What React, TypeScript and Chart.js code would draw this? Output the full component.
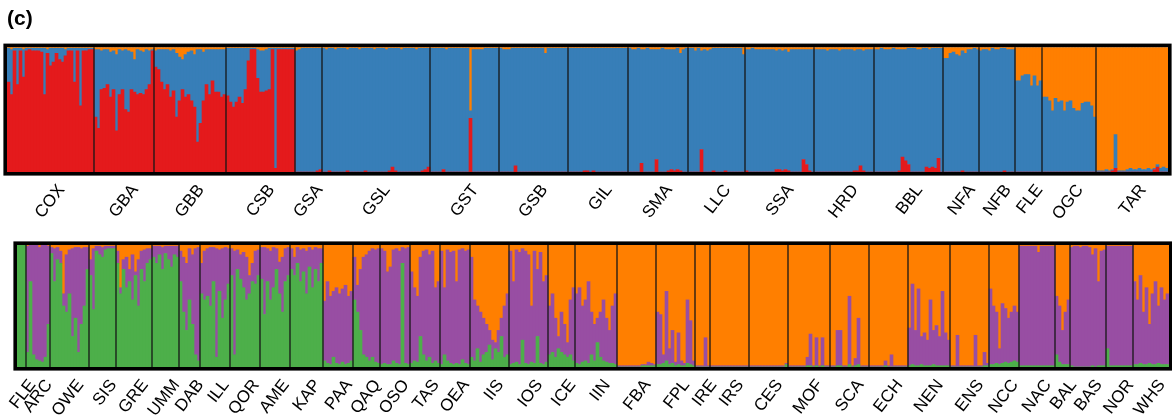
import React, { useEffect, useRef } from "react";
import { Chart, registerables } from "chart.js";
Chart.register(...registerables);

// ---------- Top panel (K: red / blue / orange) ----------
const TOP_POPS = ["COX", "GBA", "GBB", "CSB", "GSA", "GSL", "GST", "GSB", "GIL", "SMA", "LLC", "SSA", "HRD", "BBL", "NFA", "NFB", "FLE", "OGC", "TAR"];

// red ancestry per individual, one row per population
const TOP_RED: number[][] = [
  [0.72, 0.62, 0.97, 0.70, 0.97, 0.76, 0.97, 0.98, 0.97, 0.97, 0.97, 0.96, 0.62, 0.95, 0.85, 0.88, 0.95, 0.90, 0.88, 0.93, 0.97, 0.97, 0.72, 0.97, 0.53, 0.97, 0.97, 0.98, 0.98],
  [0.44, 0.35, 0.66, 0.67, 0.70, 0.60, 0.66, 0.33, 0.62, 0.66, 0.50, 0.48, 0.66, 0.64, 0.62, 0.63, 0.62, 0.66, 0.70, 0.97],
  [0.84, 0.82, 0.72, 0.66, 0.70, 0.60, 0.65, 0.44, 0.57, 0.66, 0.60, 0.62, 0.57, 0.52, 0.24, 0.39, 0.57, 0.70, 0.62, 0.73, 0.64, 0.64, 0.60, 0.62],
  [0.61, 0.56, 0.52, 0.56, 0.60, 0.55, 0.66, 0.89, 0.98, 0.98, 0.75, 0.64, 0.64, 0.65, 0.66, 0.98, 0.03, 0.98, 0.98, 0.98, 0.98, 0.98, 0.98],
  [0, 0, 0, 0, 0, 0, 0, 0.01, 0.02],
  [0, 0, 0.01, 0, 0, 0, 0, 0, 0.01, 0, 0, 0, 0, 0, 0.01, 0, 0, 0, 0, 0, 0, 0, 0.01, 0.04, 0.01, 0, 0, 0, 0, 0, 0, 0, 0, 0.01, 0.02, 0.04],
  [0, 0, 0, 0, 0.02, 0, 0, 0, 0, 0, 0, 0, 0, 0.43, 0, 0, 0, 0, 0, 0, 0, 0, 0],
  [0, 0, 0, 0, 0, 0.05, 0, 0, 0, 0, 0, 0, 0, 0, 0, 0, 0, 0, 0, 0, 0, 0, 0],
  [0, 0, 0, 0, 0, 0.01, 0.01, 0, 0.01, 0, 0, 0, 0, 0, 0, 0, 0, 0, 0, 0],
  [0, 0, 0, 0, 0.07, 0, 0, 0, 0, 0.10, 0, 0, 0, 0.01, 0.02, 0.01, 0.02, 0.01, 0, 0],
  [0, 0, 0, 0, 0.18, 0, 0, 0, 0.01, 0, 0, 0, 0.01, 0, 0, 0, 0, 0, 0],
  [0.01, 0, 0, 0, 0, 0, 0, 0, 0, 0, 0.02, 0.02, 0.01, 0.02, 0.01, 0, 0, 0, 0, 0.10, 0.06, 0.01, 0],
  [0, 0, 0, 0, 0, 0, 0, 0, 0, 0, 0, 0, 0, 0.01, 0.01, 0.05, 0.01, 0, 0, 0],
  [0, 0, 0, 0, 0, 0, 0, 0, 0.01, 0.12, 0.09, 0.06, 0, 0, 0, 0, 0, 0.04, 0.03, 0.04, 0.03, 0.11, 0],
  [0, 0, 0, 0, 0, 0, 0.01, 0, 0, 0, 0, 0],
  [0, 0, 0, 0, 0, 0, 0, 0, 0.01, 0, 0, 0],
  [0, 0, 0, 0, 0, 0, 0, 0, 0],
  [0, 0, 0, 0, 0, 0, 0, 0, 0, 0, 0, 0, 0, 0, 0, 0, 0, 0],
  [0, 0, 0, 0, 0, 0.01, 0.03, 0, 0, 0, 0, 0, 0, 0, 0, 0, 0, 0, 0, 0.02, 0.04, 0, 0, 0],
];

// orange ancestry per individual (blue is the remainder)
const TOP_ORANGE: number[][] = [
  [0.01, 0.02, 0.01, 0.01, 0.01, 0.02, 0.01, 0.01, 0.01, 0.01, 0.01, 0.01, 0.01, 0.02, 0.01, 0.01, 0.01, 0.01, 0.01, 0.02, 0.01, 0.01, 0.01, 0.01, 0.01, 0.01, 0.01, 0.01, 0.01],
  [0.02, 0.02, 0.03, 0.02, 0.02, 0.04, 0.03, 0.06, 0.02, 0.03, 0.02, 0.03, 0.04, 0.10, 0.02, 0.03, 0.04, 0.02, 0.03, 0.02],
  [0.03, 0.02, 0.02, 0.02, 0.02, 0.03, 0.02, 0.05, 0.08, 0.10, 0.06, 0.04, 0.03, 0.06, 0.02, 0.02, 0.04, 0.02, 0.02, 0.02, 0.02, 0.02, 0.02, 0.02],
  [0.01, 0.01, 0.01, 0.01, 0.01, 0.01, 0.01, 0.01, 0.01, 0.01, 0.02, 0.03, 0.03, 0.02, 0.01, 0.01, 0.01, 0.01, 0.01, 0.01, 0.01, 0.01, 0.01],
  [0.03, 0.02, 0.01, 0.01, 0.01, 0.01, 0.01, 0.01, 0.01],
  [0.01, 0.02, 0.01, 0.01, 0.02, 0.01, 0.01, 0.01, 0.02, 0.01, 0.01, 0.01, 0.02, 0.01, 0.01, 0.01, 0.01, 0.02, 0.01, 0.01, 0.01, 0.02, 0.01, 0.01, 0.01, 0.01, 0.02, 0.01, 0.01, 0.01, 0.01, 0.02, 0.01, 0.01, 0.01, 0.01],
  [0.01, 0.01, 0.01, 0.01, 0.01, 0.02, 0.01, 0.01, 0.01, 0.01, 0.01, 0.01, 0.01, 0.51, 0.02, 0.02, 0.02, 0.02, 0.01, 0.01, 0.01, 0.01, 0.01],
  [0.01, 0.02, 0.02, 0.02, 0.01, 0.01, 0.01, 0.01, 0.01, 0.01, 0.01, 0.01, 0.01, 0.01, 0.01, 0.05, 0.01, 0.01, 0.01, 0.01, 0.01, 0.01, 0.01],
  [0.01, 0.01, 0.01, 0.01, 0.01, 0.01, 0.01, 0.01, 0.01, 0.01, 0.01, 0.01, 0.01, 0.01, 0.01, 0.01, 0.01, 0.01, 0.01, 0.01],
  [0.01, 0.02, 0.02, 0.01, 0.02, 0.02, 0.01, 0.02, 0.02, 0.02, 0.02, 0.01, 0.02, 0.02, 0.02, 0.02, 0.01, 0.05, 0.02, 0.01],
  [0.01, 0.01, 0.03, 0.01, 0.03, 0.02, 0.03, 0.02, 0.01, 0.01, 0.01, 0.01, 0.01, 0.01, 0.01, 0.01, 0.01, 0.01, 0.06],
  [0.02, 0.02, 0.01, 0.02, 0.02, 0.02, 0.02, 0.02, 0.02, 0.02, 0.03, 0.02, 0.03, 0.02, 0.04, 0.02, 0.02, 0.02, 0.02, 0.02, 0.02, 0.02, 0.02],
  [0.02, 0.02, 0.02, 0.02, 0.03, 0.02, 0.02, 0.02, 0.03, 0.02, 0.02, 0.02, 0.02, 0.03, 0.02, 0.02, 0.03, 0.02, 0.02, 0.02],
  [0.02, 0.02, 0.01, 0.02, 0.02, 0.02, 0.01, 0.02, 0.02, 0.02, 0.02, 0.01, 0.01, 0.01, 0.02, 0.02, 0.01, 0.01, 0.02, 0.01, 0.01, 0.01, 0.01],
  [0.09, 0.09, 0.05, 0.04, 0.06, 0.07, 0.03, 0.05, 0.02, 0.02, 0.01, 0.02],
  [0.03, 0.02, 0.02, 0.03, 0.01, 0.02, 0.02, 0.01, 0.01, 0.02, 0.02, 0.02],
  [0.27, 0.27, 0.23, 0.22, 0.22, 0.31, 0.23, 0.31, 0.27],
  [0.40, 0.40, 0.43, 0.51, 0.41, 0.44, 0.43, 0.51, 0.44, 0.43, 0.49, 0.51, 0.51, 0.45, 0.44, 0.44, 0.47, 0.56],
  [0.99, 0.99, 0.99, 0.98, 0.99, 0.98, 0.70, 0.99, 0.99, 0.99, 0.98, 0.97, 0.98, 0.98, 0.97, 0.98, 0.98, 0.97, 0.98, 0.97, 0.94, 0.97, 0.96, 0.97],
];

// ---------- Bottom panel (K: green / purple / orange) ----------
const BOT_POPS = ["FLE", "ARC", "OWE", "SIS", "GRE", "UMM", "DAB", "ILL", "QOR", "AME", "KAP", "PAA", "QAQ", "OSO", "TAS", "OEA", "IIS", "IOS", "ICE", "IIN", "FBA", "FPL", "IRE", "IRS", "CES", "MOF", "SCA", "ECH", "NEN", "ENS", "NCC", "NAC", "BAL", "BAS", "NOR", "WHS"];

// green ancestry per individual
const BOT_GREEN: number[][] = [
  [1, 1, 1],
  [0.12, 0.70, 0.10, 0.06, 0.05, 0.04, 0.08, 0.35],
  [0.93, 0.70, 0.88, 0.85, 0.50, 0.45, 0.60, 0.25, 0.40, 0.12, 0.35, 0.50, 0.80],
  [0.75, 0.47, 0.95, 0.92, 0.90, 0.96, 0.97, 0.97, 0.97],
  [0.85, 0.60, 0.80, 0.65, 0.70, 0.55, 0.75, 0.50, 0.80, 0.70, 0.85, 0.88],
  [0.90, 0.85, 0.92, 0.80, 0.93, 0.88, 0.82, 0.92, 0.90],
  [0.70, 0.45, 0.30, 0.55, 0.35, 0.10, 0.05],
  [0.60, 0.55, 0.58, 0.50, 0.70, 0.08, 0.62, 0.40, 0.55, 0.68],
  [0.75, 0.10, 0.80, 0.72, 0.65, 0.55, 0.60, 0.70, 0.68, 0.75],
  [0.72, 0.43, 0.70, 0.55, 0.65, 0.80, 0.60, 0.45, 0.70, 0.75],
  [0.80, 0.75, 0.85, 0.70, 0.78, 0.60, 0.82, 0.65, 0.80, 0.70, 0.85],
  [0.05, 0.03, 0.02, 0.08, 0.03, 0.02, 0.04, 0.02, 0.03, 0.05],
  [0.55, 0.45, 0.30, 0.10, 0.08, 0.05, 0.08, 0.04, 0.03],
  [0.02, 0.03, 0.02, 0.02, 0.05, 0.03, 0.02, 0.85, 0.03, 0.02],
  [0.03, 0.05, 0.04, 0.25, 0.10, 0.05, 0.08, 0.03, 0.05, 0.03],
  [0.02, 0.10, 0.05, 0.03, 0.02, 0.03, 0.02, 0.06, 0.03, 0.02],
  [0.08, 0.05, 0.15, 0.04, 0.10, 0.12, 0.18, 0.06, 0.15, 0.12, 0.25, 0.08, 0.10],
  [0.02, 0.03, 0.04, 0.02, 0.22, 0.03, 0.02, 0.04, 0.03, 0.25, 0.03, 0.02, 0.04],
  [0.10, 0.12, 0.08, 0.15, 0.12, 0.10, 0.08, 0.10, 0.05],
  [0.03, 0.02, 0.04, 0.05, 0.03, 0.10, 0.05, 0.20, 0.08, 0.05, 0.04, 0.03, 0.03, 0.02],
  [0, 0, 0, 0, 0, 0, 0, 0, 0.01, 0.01, 0.01, 0.01, 0.01],
  [0.02, 0.02, 0.03, 0.05, 0.02, 0.03, 0.01, 0.02, 0.01, 0.01, 0.03, 0.02, 0.01],
  [0, 0, 0, 0, 0],
  [0, 0, 0, 0, 0, 0, 0, 0, 0, 0, 0, 0, 0],
  [0, 0, 0, 0, 0, 0, 0, 0, 0, 0, 0, 0, 0.02],
  [0, 0, 0, 0, 0, 0, 0.01, 0.01, 0, 0.01, 0, 0.01, 0, 0],
  [0, 0, 0.01, 0.01, 0, 0, 0.02, 0, 0.01, 0.02, 0, 0, 0],
  [0, 0, 0, 0, 0, 0.01, 0, 0, 0, 0, 0, 0, 0],
  [0.01, 0.02, 0.01, 0.01, 0.02, 0.01, 0.01, 0.01, 0.02, 0.01, 0.01, 0.01, 0.01, 0.01],
  [0, 0, 0, 0, 0, 0, 0, 0, 0, 0, 0, 0.01, 0.01],
  [0.02, 0.02, 0.03, 0.02, 0.03, 0.04, 0.03, 0.04, 0.05, 0.04],
  [0.01, 0.01, 0.01, 0.01, 0.01, 0.01, 0.01, 0.01, 0.01, 0.01, 0.01, 0.01],
  [0.10, 0.04, 0.02, 0.02, 0.02],
  [0.01, 0, 0, 0, 0, 0, 0, 0.01, 0, 0.01, 0.01, 0.01],
  [0.15, 0.01, 0.01, 0.01, 0.01, 0.01, 0.01, 0.01, 0.01],
  [0.02, 0.02, 0.03, 0.02, 0.02, 0.03, 0.02, 0.02, 0.03, 0.02, 0.02, 0.02],
];

// orange ancestry per individual (purple is the remainder)
const BOT_ORANGE: number[][] = [
  [0, 0, 0],
  [0.01, 0, 0, 0, 0.02, 0, 0, 0.01],
  [0.02, 0.03, 0.02, 0.05, 0.40, 0.08, 0.04, 0.03, 0.02, 0.02, 0.03, 0.02, 0.02],
  [0.12, 0.03, 0.01, 0.01, 0.02, 0.01, 0.01, 0.01, 0.01],
  [0.05, 0.35, 0.12, 0.10, 0.20, 0.08, 0.22, 0.12, 0.05, 0.04, 0.03, 0.03],
  [0.01, 0.01, 0.01, 0.02, 0.01, 0.01, 0.01, 0.01, 0.01],
  [0.05, 0.10, 0.15, 0.03, 0.08, 0.03, 0.02],
  [0.15, 0.05, 0.03, 0.02, 0.02, 0.03, 0.04, 0.03, 0.02, 0.03],
  [0.03, 0.05, 0.04, 0.08, 0.06, 0.10, 0.25, 0.15, 0.05, 0.04],
  [0.02, 0.02, 0.03, 0.05, 0.02, 0.03, 0.14, 0.10, 0.03, 0.02],
  [0.03, 0.10, 0.02, 0.04, 0.03, 0.05, 0.02, 0.04, 0.02, 0.03, 0.03],
  [0.46, 0.30, 0.42, 0.38, 0.35, 0.40, 0.36, 0.33, 0.42, 0.38],
  [0.10, 0.33, 0.20, 0.10, 0.08, 0.05, 0.03, 0.04, 0.03],
  [0.03, 0.05, 0.22, 0.18, 0.04, 0.03, 0.05, 0.02, 0.03, 0.02],
  [0.22, 0.35, 0.42, 0.10, 0.05, 0.04, 0.08, 0.05, 0.35, 0.30],
  [0.05, 0.35, 0.04, 0.06, 0.05, 0.30, 0.04, 0.03, 0.05, 0.04],
  [0.10, 0.45, 0.50, 0.55, 0.60, 0.65, 0.70, 0.78, 0.80, 0.70, 0.60, 0.50, 0.40],
  [0.05, 0.30, 0.04, 0.06, 0.03, 0.05, 0.08, 0.50, 0.05, 0.20, 0.06, 0.30, 0.25],
  [0.50, 0.40, 0.60, 0.75, 0.55, 0.65, 0.80, 0.45, 0.35],
  [0.40, 0.35, 0.50, 0.45, 0.30, 0.55, 0.65, 0.60, 0.55, 0.45, 0.60, 0.70, 0.50, 0.40],
  [0.99, 0.99, 0.99, 0.99, 0.99, 0.99, 0.99, 0.99, 0.98, 0.98, 0.96, 0.97, 0.98],
  [0.55, 0.57, 0.90, 0.38, 0.85, 0.70, 0.96, 0.72, 0.95, 0.97, 0.45, 0.62, 0.95],
  [0.99, 0.99, 0.99, 0.76, 0.99],
  [0.99, 0.99, 0.99, 0.99, 0.99, 0.99, 0.99, 0.99, 0.99, 0.99, 0.99, 0.99, 0.99],
  [0.99, 0.99, 0.99, 0.99, 0.99, 0.99, 0.99, 0.99, 0.99, 0.99, 0.99, 0.99, 0.97],
  [0.99, 0.99, 0.99, 0.99, 0.99, 0.99, 0.92, 0.73, 0.99, 0.76, 0.99, 0.76, 0.99, 0.99],
  [0.99, 0.99, 0.70, 0.70, 0.99, 0.99, 0.42, 0.99, 0.93, 0.60, 0.99, 0.99, 0.99],
  [0.99, 0.99, 0.99, 0.99, 0.99, 0.95, 0.99, 0.90, 0.99, 0.99, 0.99, 0.99, 0.99],
  [0.68, 0.32, 0.70, 0.36, 0.75, 0.72, 0.78, 0.45, 0.70, 0.66, 0.75, 0.38, 0.72, 0.78],
  [0.99, 0.99, 0.74, 0.99, 0.99, 0.99, 0.99, 0.99, 0.74, 0.99, 0.99, 0.88, 0.97],
  [0.36, 0.50, 0.55, 0.85, 0.48, 0.52, 0.60, 0.55, 0.50, 0.55],
  [0.01, 0.01, 0.01, 0.01, 0.01, 0.01, 0.06, 0.01, 0.01, 0.01, 0.01, 0.01],
  [0.42, 0.50, 0.70, 0.55, 0.45],
  [0.02, 0.01, 0.01, 0.02, 0.01, 0.01, 0.02, 0.08, 0.03, 0.30, 0.05, 0.04],
  [0.01, 0.01, 0.01, 0.01, 0.01, 0.01, 0.01, 0.01, 0.01],
  [0.30, 0.45, 0.25, 0.55, 0.35, 0.65, 0.40, 0.30, 0.50, 0.35, 0.45, 0.40],
];

const RED = "#E41A1C";
const BLUE = "#377EB8";
const ORANGE = "#FF7F00";
const PURPLE = "#984EA3";
const GREEN = "#4DAF4A";

const FONT = '"Liberation Sans", Arial, Helvetica, sans-serif';

function structurePlugin(pops: string[], sizes: number[]) {
  return {
    id: "structureDecor",
    afterDatasetsDraw(chart: any) {
      const { ctx, chartArea: a, scales } = chart;
      const x = scales.x;
      const ranges: [number, number][] = [];
      let idx = 0;
      sizes.forEach((n) => {
        ranges.push([idx, idx + n - 1]);
        idx += n;
      });
      const half = (x.getPixelForValue(1) - x.getPixelForValue(0)) / 2;
      ctx.save();
      // population separators
      ctx.strokeStyle = "#161616";
      ctx.lineWidth = 1.3;
      ranges.slice(1).forEach(([s]) => {
        const px = x.getPixelForValue(s) - half;
        ctx.beginPath();
        ctx.moveTo(px, a.top);
        ctx.lineTo(px, a.bottom);
        ctx.stroke();
      });
      // thick frame
      ctx.strokeStyle = "#000";
      ctx.lineWidth = 3.6;
      ctx.strokeRect(a.left - 1.8, a.top - 1.8, a.right - a.left + 3.6, a.bottom - a.top + 3.6);
      // rotated population labels
      ctx.fillStyle = "#000";
      ctx.font = `17px ${FONT}`;
      ctx.textAlign = "right";
      ctx.textBaseline = "middle";
      ranges.forEach(([s, e], i) => {
        const cx = (x.getPixelForValue(s) + x.getPixelForValue(e)) / 2;
        ctx.save();
        ctx.translate(cx + 11, a.bottom + 15);
        ctx.rotate((-52 * Math.PI) / 180);
        ctx.fillText(pops[i], 0, 0);
        ctx.restore();
      });
      ctx.restore();
    },
  };
}

function makeChart(
  canvas: HTMLCanvasElement,
  pops: string[],
  lower: number[][],
  upper: number[][],
  colors: [string, string, string],
  padding: { left: number; right: number; top: number; bottom: number },
  title: string | null
) {
  const sizes = lower.map((r) => r.length);
  const low = lower.flat();
  const up = upper.flat();
  const mid = low.map((v, i) => Math.max(0, +(1 - v - up[i]).toFixed(4)));
  const labels = low.map((_, i) => String(i));
  return new Chart(canvas, {
    type: "bar",
    data: {
      labels,
      datasets: [
        { data: low, backgroundColor: colors[0] },
        { data: mid, backgroundColor: colors[1] },
        { data: up, backgroundColor: colors[2] },
      ],
    },
    options: {
      animation: false,
      responsive: false,
      maintainAspectRatio: false,
      events: [],
      layout: { padding },
      datasets: {
        bar: { barPercentage: 1, categoryPercentage: 1, borderWidth: 0 },
      },
      plugins: {
        legend: { display: false },
        tooltip: { enabled: false },
        title: title
          ? {
              display: true,
              text: title,
              align: "start",
              color: "#000",
              font: { family: FONT, size: 21, weight: "bold" },
              padding: { top: 7, bottom: 15 },
            }
          : { display: false },
      },
      scales: {
        x: { stacked: true, display: false },
        y: { stacked: true, display: false, min: 0, max: 1 },
      },
    } as any,
    plugins: [structurePlugin(pops, sizes)],
  });
}

export default function App() {
  const topRef = useRef<HTMLCanvasElement>(null);
  const botRef = useRef<HTMLCanvasElement>(null);

  useEffect(() => {
    const top = makeChart(
      topRef.current!,
      TOP_POPS,
      TOP_RED,
      TOP_ORANGE,
      [RED, BLUE, ORANGE],
      { left: 7, right: 4, top: 0, bottom: 60 },
      "(c)"
    );
    const bot = makeChart(
      botRef.current!,
      BOT_POPS,
      BOT_GREEN,
      BOT_ORANGE,
      [GREEN, PURPLE, ORANGE],
      { left: 17, right: 3, top: 13, bottom: 48 },
      null
    );
    return () => {
      top.destroy();
      bot.destroy();
    };
  }, []);

  return (
    <div style={{ position: "absolute", left: 0, top: 0, width: 1172, height: 415, background: "#fff" }}>
      <canvas ref={topRef} width={1172} height={232} style={{ display: "block", width: 1172, height: 232 }} />
      <canvas ref={botRef} width={1172} height={183} style={{ display: "block", width: 1172, height: 183 }} />
    </div>
  );
}
